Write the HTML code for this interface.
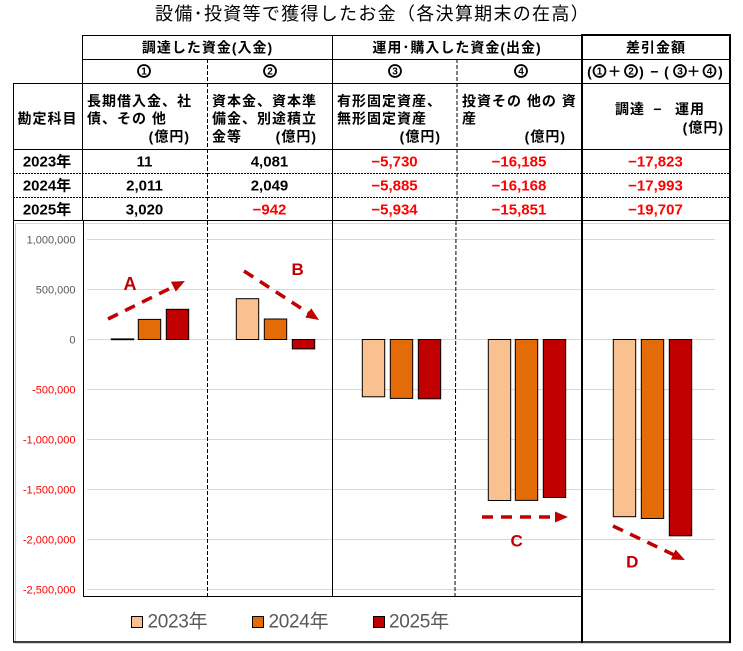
<!DOCTYPE html>
<html>
<head>
<meta charset="utf-8">
<style>
html,body{margin:0;padding:0;background:#fff;}
svg{display:block;}
.t{font-family:"Liberation Sans","Noto Sans CJK JP",sans-serif;}
.cj{font-family:"Liberation Sans","Noto Sans CJK JP",sans-serif;font-size:14px;letter-spacing:1px;font-weight:bold;fill:#000;}
.cd{font-family:"Liberation Sans",sans-serif;font-size:10px;font-weight:bold;fill:#000;}
.num{font-family:"Liberation Sans","Noto Sans CJK JP",sans-serif;font-size:15px;font-weight:bold;fill:#000;}
.red{fill:#FF0000;}
.tick{font-family:"Liberation Sans",sans-serif;font-size:11px;fill:#595959;}
.tickr{font-family:"Liberation Sans",sans-serif;font-size:11px;fill:#FF0000;}
.lab{font-family:"Liberation Sans",sans-serif;font-weight:bold;fill:#C00000;}
.leg{font-family:"Liberation Sans","Noto Sans CJK JP",sans-serif;font-size:19px;fill:#595959;letter-spacing:-0.3px;}
</style>
</head>
<body>
<svg width="743" height="651" viewBox="0 0 743 651" xmlns="http://www.w3.org/2000/svg">
<defs>
<marker id="ah" markerWidth="13" markerHeight="11" refX="1" refY="5.5" orient="auto" markerUnits="userSpaceOnUse">
<path d="M0,0 L13,5.5 L0,11 z" fill="#C00000"/>
</marker>
</defs>

<!-- Title -->
<text class="t" x="372.5" y="20" text-anchor="middle" font-size="18" letter-spacing="1.3" fill="#000">設備･投資等で獲得したお金（各決算期末の在高）</text>

<!-- Chart frame (light) -->
<line x1="15.5" y1="223" x2="15.5" y2="643" stroke="#bfbfbf" stroke-width="1"/>
<line x1="15" y1="223.5" x2="729" y2="223.5" stroke="#d9d9d9" stroke-width="1"/>
<line x1="15" y1="643.5" x2="731" y2="643.5" stroke="#d9d9d9" stroke-width="1"/>

<!-- Gridlines -->
<g stroke="#d9d9d9" stroke-width="1">
<line x1="87" y1="239.5" x2="715" y2="239.5"/>
<line x1="87" y1="289.5" x2="715" y2="289.5"/>
<line x1="87" y1="339.5" x2="715" y2="339.5"/>
<line x1="87" y1="389.5" x2="715" y2="389.5"/>
<line x1="87" y1="439.5" x2="715" y2="439.5"/>
<line x1="87" y1="489.5" x2="715" y2="489.5"/>
<line x1="87" y1="539.5" x2="715" y2="539.5"/>
<line x1="87" y1="589.5" x2="715" y2="589.5"/>
</g>

<!-- Tick labels -->
<text class="tick" x="75.5" y="243.5" text-anchor="end">1,000,000</text>
<text class="tick" x="75.5" y="293.5" text-anchor="end">500,000</text>
<text class="tick" x="75.5" y="343.5" text-anchor="end">0</text>
<text class="tickr" x="75.5" y="393.5" text-anchor="end">-500,000</text>
<text class="tickr" x="75.5" y="443.5" text-anchor="end">-1,000,000</text>
<text class="tickr" x="75.5" y="493.5" text-anchor="end">-1,500,000</text>
<text class="tickr" x="75.5" y="543.5" text-anchor="end">-2,000,000</text>
<text class="tickr" x="75.5" y="593.5" text-anchor="end">-2,500,000</text>

<!-- Bars -->
<g stroke="#000" stroke-width="1">
<rect x="111.3" y="338.9" width="22.4" height="0.8" fill="#000"/>
<rect x="138.3" y="319.4" width="22.4" height="20.1" fill="#E36C09"/>
<rect x="166.3" y="309.3" width="22.4" height="30.2" fill="#C00000"/>
<rect x="236.3" y="298.7" width="22.4" height="40.8" fill="#F9C190"/>
<rect x="264.3" y="319.0" width="22.4" height="20.5" fill="#E36C09"/>
<rect x="292.3" y="339.5" width="22.4" height="9.4" fill="#C00000"/>
<rect x="362.3" y="339.5" width="22.4" height="57.3" fill="#F9C190"/>
<rect x="390.3" y="339.5" width="22.4" height="58.9" fill="#E36C09"/>
<rect x="418.3" y="339.5" width="22.4" height="59.3" fill="#C00000"/>
<rect x="488.3" y="339.5" width="22.4" height="161.0" fill="#F9C190"/>
<rect x="515.3" y="339.5" width="22.4" height="160.9" fill="#E36C09"/>
<rect x="543.3" y="339.5" width="22.4" height="158.0" fill="#C00000"/>
<rect x="613.3" y="339.5" width="22.4" height="177.2" fill="#F9C190"/>
<rect x="641.3" y="339.5" width="22.4" height="179.0" fill="#E36C09"/>
<rect x="669.3" y="339.5" width="22.4" height="196.3" fill="#C00000"/>
</g>

<!-- Arrows -->
<g stroke="#C00000" stroke-width="3.5" stroke-dasharray="11 8" fill="none">
<line x1="108" y1="319" x2="174.2" y2="286.3" marker-end="url(#ah)"/>
<line x1="244" y1="271" x2="309" y2="313.4" marker-end="url(#ah)"/>
<line x1="482" y1="517" x2="556" y2="517" marker-end="url(#ah)"/>
<line x1="613" y1="526" x2="674.1" y2="554.9" marker-end="url(#ah)"/>
</g>
<text class="lab" x="130" y="290" text-anchor="middle" font-size="18">A</text>
<text class="lab" x="297.7" y="275" text-anchor="middle" font-size="17">B</text>
<text class="lab" x="516.7" y="546.7" text-anchor="middle" font-size="17">C</text>
<text class="lab" x="632.3" y="567.7" text-anchor="middle" font-size="17">D</text>

<!-- Legend -->
<rect x="131.5" y="616.5" width="11" height="11" fill="#F9C190" stroke="#000" stroke-width="1"/>
<text class="leg" x="147.5" y="627.5">2023年</text>
<rect x="252.5" y="616.5" width="11" height="11" fill="#E36C09" stroke="#000" stroke-width="1"/>
<text class="leg" x="268.5" y="627.5">2024年</text>
<rect x="373.5" y="616.5" width="11" height="11" fill="#C00000" stroke="#000" stroke-width="1"/>
<text class="leg" x="389" y="627.5">2025年</text>

<!-- Table lines -->
<g stroke="#000" stroke-width="1" fill="none">
<line x1="82" y1="35.5" x2="582" y2="35.5"/>
<line x1="82" y1="59.5" x2="730" y2="59.5"/>
<line x1="13" y1="83.5" x2="730" y2="83.5"/>
<line x1="13" y1="149.5" x2="730" y2="149.5"/>
<line x1="13" y1="173.5" x2="730" y2="173.5" stroke-dasharray="2 1"/>
<line x1="13" y1="197.5" x2="730" y2="197.5" stroke-dasharray="2 1"/>
<line x1="13" y1="220.5" x2="730" y2="220.5"/>
<line x1="13.5" y1="83" x2="13.5" y2="642"/>
<line x1="82.5" y1="35" x2="82.5" y2="221"/>
<line x1="83.5" y1="220" x2="83.5" y2="597"/>
<line x1="207.5" y1="59" x2="207.5" y2="597" stroke-dasharray="4 2"/>
<line x1="332.5" y1="35" x2="332.5" y2="596"/>
<line x1="457" y1="59" x2="457" y2="221" stroke-dasharray="4 2"/>
<line x1="456" y1="221" x2="455" y2="597" stroke-dasharray="4 2"/>
<line x1="83" y1="596.5" x2="582" y2="596.5"/>
<line x1="13" y1="642" x2="731" y2="642" stroke-width="1.5"/>
</g>
<g stroke="#000" stroke-width="2" fill="none">
<line x1="581" y1="35" x2="731" y2="35"/>
<line x1="582" y1="34" x2="582" y2="643"/>
<line x1="730" y1="34" x2="730" y2="643"/>
</g>

<!-- Header texts -->
<text class="cj" x="207.5" y="52.5" text-anchor="middle">調達した資金(入金)</text>
<text class="cj" x="457" y="52.5" text-anchor="middle">運用･購入した資金(出金)</text>
<text class="cj" x="656" y="52.5" text-anchor="middle">差引金額</text>

<!-- circled numbers -->
<g fill="none" stroke="#000" stroke-width="1.8">
<circle cx="144" cy="71" r="6"/>
<circle cx="270" cy="71" r="6"/>
<circle cx="395" cy="71" r="6"/>
<circle cx="521" cy="71" r="6"/>
<circle cx="599.5" cy="71" r="6"/>
<circle cx="631" cy="71" r="6"/>
<circle cx="680" cy="71" r="6"/>
<circle cx="709.5" cy="71" r="6"/>
</g>
<text class="cd" x="144" y="74.6" text-anchor="middle">1</text>
<text class="cd" x="270" y="74.6" text-anchor="middle">2</text>
<text class="cd" x="395" y="74.6" text-anchor="middle">3</text>
<text class="cd" x="521" y="74.6" text-anchor="middle">4</text>
<text class="cd" x="599.5" y="74.6" text-anchor="middle">1</text>
<text class="cd" x="631" y="74.6" text-anchor="middle">2</text>
<text class="cd" x="680" y="74.6" text-anchor="middle">3</text>
<text class="cd" x="709.5" y="74.6" text-anchor="middle">4</text>
<text class="cj" x="590" y="76.5" text-anchor="middle">(</text>
<text class="cj" x="615" y="76.5" text-anchor="middle">＋</text>
<text class="cj" x="642" y="76.5" text-anchor="middle">)</text>
<text class="cj" x="655" y="76.5" text-anchor="middle">−</text>
<text class="cj" x="667" y="76.5" text-anchor="middle">(</text>
<text class="cj" x="694" y="76.5" text-anchor="middle">＋</text>
<text class="cj" x="721" y="76.5" text-anchor="middle">)</text>

<text class="cj" x="47.5" y="123.5" text-anchor="middle">勘定科目</text>

<text class="cj" x="87" y="106">長期借入金、社</text>
<text class="cj" x="87" y="123.5">債、その 他</text>
<text class="cj" x="190" y="141.5" text-anchor="end">(億円)</text>

<text class="cj" x="212" y="106">資本金、資本準</text>
<text class="cj" x="212" y="123.5">備金、別途積立</text>
<text class="cj" x="212" y="141.5">金等</text>
<text class="cj" x="317" y="141.5" text-anchor="end">(億円)</text>

<text class="cj" x="337" y="106">有形固定資産、</text>
<text class="cj" x="337" y="123.5">無形固定資産</text>
<text class="cj" x="441" y="141.5" text-anchor="end">(億円)</text>

<text class="cj" x="462" y="106">投資その 他の 資</text>
<text class="cj" x="462" y="123.5">産</text>
<text class="cj" x="566" y="141.5" text-anchor="end">(億円)</text>

<text class="cj" x="615" y="114">調達</text>
<text class="cj" x="658" y="114" text-anchor="middle">−</text>
<text class="cj" x="675" y="114">運用</text>
<text class="cj" x="724" y="132.5" text-anchor="end">(億円)</text>

<!-- Data rows -->
<text class="num" x="47" y="166.5" text-anchor="middle">2023年</text>
<text class="num" x="47" y="190.5" text-anchor="middle">2024年</text>
<text class="num" x="47" y="214.5" text-anchor="middle">2025年</text>

<text class="num" x="144.5" y="166.5" text-anchor="middle">11</text>
<text class="num" x="269.5" y="166.5" text-anchor="middle">4,081</text>
<text class="num red" x="394.5" y="166.5" text-anchor="middle">−5,730</text>
<text class="num red" x="519" y="166.5" text-anchor="middle">−16,185</text>
<text class="num red" x="655.5" y="166.5" text-anchor="middle">−17,823</text>

<text class="num" x="144.5" y="190.5" text-anchor="middle">2,011</text>
<text class="num" x="269.5" y="190.5" text-anchor="middle">2,049</text>
<text class="num red" x="394.5" y="190.5" text-anchor="middle">−5,885</text>
<text class="num red" x="519" y="190.5" text-anchor="middle">−16,168</text>
<text class="num red" x="655.5" y="190.5" text-anchor="middle">−17,993</text>

<text class="num" x="144.5" y="214.5" text-anchor="middle">3,020</text>
<text class="num red" x="269.5" y="214.5" text-anchor="middle">−942</text>
<text class="num red" x="394.5" y="214.5" text-anchor="middle">−5,934</text>
<text class="num red" x="519" y="214.5" text-anchor="middle">−15,851</text>
<text class="num red" x="655.5" y="214.5" text-anchor="middle">−19,707</text>
</svg>
</body>
</html>
